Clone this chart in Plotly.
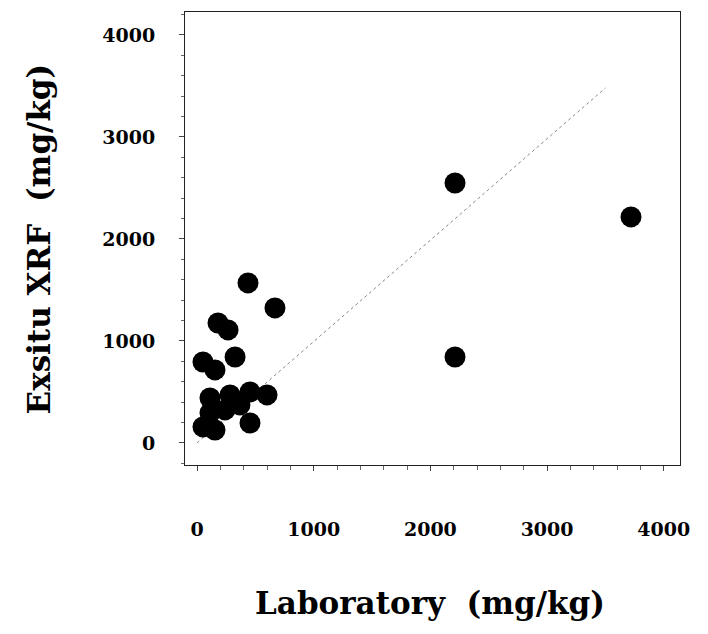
import plotly.graph_objects as go

# Data (mg/kg)
lab = [2211, 3719, 2211, 437, 668, 180, 266, 51, 154, 326,
       111, 283, 454, 600, 111, 240, 51, 154, 454, 368]
xrf = [2549, 2216, 843, 1569, 1324, 1176, 1108, 794, 716, 843,
       441, 471, 500, 471, 294, 324, 157, 127, 196, 373]

line_x = [0, 3500]
line_y = [0, 3480]

x_ticks = [0, 1000, 2000, 3000, 4000]
y_ticks = [0, 1000, 2000, 3000, 4000]

FONT = "DejaVu Serif"

fig = go.Figure()
fig.add_trace(go.Scatter(x=line_x, y=line_y, mode="lines",
                         line=dict(color="#888888", width=1, dash="dot"),
                         showlegend=False, hoverinfo="skip"))
fig.add_trace(go.Scatter(x=lab, y=xrf, mode="markers",
                         marker=dict(color="black", size=21, line=dict(width=0)),
                         showlegend=False))

axis_common = dict(showgrid=False, zeroline=False, showline=True, mirror=True,
                   linecolor="#222222", linewidth=1, ticks="outside", ticklen=5,
                   tickcolor="#444444", tickwidth=1,
                   tickfont=dict(family=FONT, size=19, color="black", weight="bold"))

fig.update_layout(
    width=708, height=634,
    margin=dict(l=185, r=28, t=12, b=169),
    paper_bgcolor="white", plot_bgcolor="white",
    xaxis=dict(range=[-103, 4139], tickvals=x_ticks,
               ticktext=[str(v) for v in x_ticks],
               ticklabelstandoff=42,
               minor=dict(ticks="outside", ticklen=4, dtick=200, tickcolor="#666666"),
               **axis_common),
    yaxis=dict(range=[-216, 4225], tickvals=y_ticks,
               ticktext=[str(v) for v in y_ticks],
               ticklabelstandoff=20,
               minor=dict(ticks="outside", ticklen=3, dtick=200, tickcolor="#666666"),
               **axis_common),
    annotations=[
        dict(text="<b>Laboratory  (mg/kg)</b>", xref="paper", yref="paper",
             x=0.495, y=-0.305, xanchor="center", yanchor="middle", showarrow=False,
             font=dict(family=FONT, size=31, color="black")),
        dict(text="<b>Exsitu XRF  (mg/kg)</b>", xref="paper", yref="paper",
             x=-0.295, y=0.5, xanchor="center", yanchor="middle", showarrow=False,
             textangle=-90,
             font=dict(family=FONT, size=31, color="black")),
    ],
)

fig.write_html("out.html")
